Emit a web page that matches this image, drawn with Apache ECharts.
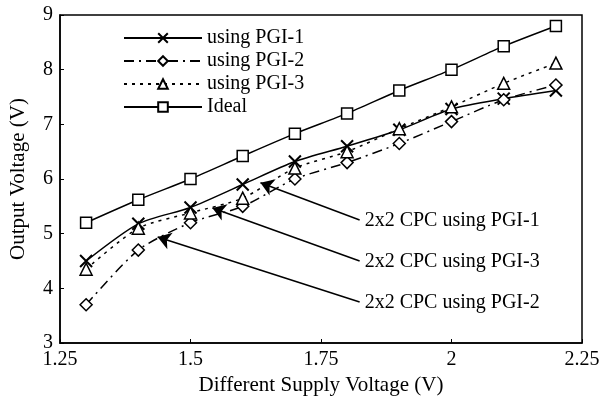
<!DOCTYPE html>
<html>
<head>
<meta charset="utf-8">
<script src="https://cdn.jsdelivr.net/npm/echarts@6/dist/echarts.min.js"></script>
<style>
  html, body { margin: 0; padding: 0; background: #fff; }
  #chart { width: 603px; height: 404px; }
</style>
</head>
<body>
<div id="chart"></div>
<script>
// supply voltages (V)
var supply = [1.3, 1.4, 1.5, 1.6, 1.7, 1.8, 1.9, 2.0, 2.1, 2.2]
// output voltages (V)
var pgi1 = [4.5, 5.18, 5.48, 5.9, 6.32, 6.6, 6.9, 7.28, 7.47, 7.62]
var pgi2 = [3.7, 4.7, 5.2, 5.5, 6.0, 6.3, 6.65, 7.05, 7.45, 7.72]
var pgi3 = [4.35, 5.1, 5.38, 5.65, 6.2, 6.5, 6.92, 7.32, 7.75, 8.12]
var ideal = [5.2, 5.62, 6.0, 6.42, 6.83, 7.2, 7.62, 8.0, 8.43, 8.8]

// annotation arrows: [label, tail x, tail y, tip x, tip y] in data units
var notes = [
  ['2x2 CPC using PGI-1', 1.824, 5.25, 1.634, 5.93],
  ['2x2 CPC using PGI-3', 1.824, 4.5, 1.542, 5.47],
  ['2x2 CPC using PGI-2', 1.824, 3.75, 1.437, 4.94]
]

var font = 'Liberation Serif'
var crossPath = 'path://M0,0L10,10M10,0L0,10'

function pairs(ys) {
  return supply.map(function(x, i) { return [x, ys[i]] })
}

function line(name, ys, symbol, dash, size) {
  return {
    name: name,
    type: 'line',
    data: pairs(ys),
    smooth: 0.25,
    symbol: symbol,
    symbolSize: size,
    showAllSymbol: true,
    lineStyle: { color: '#000', width: 1.5, type: dash },
    itemStyle: { color: '#fff', borderColor: '#000', borderWidth: 1.5 },
    emphasis: { disabled: true }
  }
}

var chart = echarts.init(document.getElementById('chart'))
var series = [
  line('using PGI-1', pgi1, crossPath, 'solid', 12),
  line('using PGI-2', pgi2, 'diamond', [10, 5, 2, 5], 12),
  line('using PGI-3', pgi3, 'triangle', [3, 5], 12),
  line('Ideal', ideal, 'rect', 'solid', 11)
]
series[0].itemStyle.borderWidth = 2
series.push({
  type: 'line',
  data: [],
  silent: true,
  markLine: {
    silent: true,
    symbol: ['none', 'arrow'],
    symbolSize: 13,
    label: { show: false },
    lineStyle: { color: '#000', width: 1.5, type: 'solid' },
    data: notes.map(function(n) {
      return [{ coord: [n[1], n[2]] }, { coord: [n[3], n[4]] }]
    })
  }
})

chart.setOption({
  animation: false,
  textStyle: { fontFamily: font, color: '#000' },
  grid: {
    left: 59, right: 21, top: 15, bottom: 61,
    show: true, borderColor: '#000', borderWidth: 1.5
  },
  legend: {
    orient: 'vertical',
    left: 118,
    top: 23,
    itemWidth: 78,
    itemHeight: 12,
    itemGap: 3,
    textStyle: { fontFamily: font, fontSize: 20, color: '#000' },
    data: ['using PGI-1', 'using PGI-2', 'using PGI-3', 'Ideal']
  },
  xAxis: {
    type: 'value',
    min: 1.25,
    max: 2.25,
    interval: 0.25,
    name: 'Different Supply Voltage (V)',
    nameLocation: 'middle',
    nameGap: 32,
    nameTextStyle: { fontFamily: font, fontSize: 21, color: '#000' },
    axisLine: { lineStyle: { color: '#000', width: 1.5 } },
    axisTick: { inside: true, length: 4, lineStyle: { color: '#000' } },
    axisLabel: { fontFamily: font, fontSize: 20, color: '#000', margin: 7 },
    splitLine: { show: false }
  },
  yAxis: {
    type: 'value',
    min: 3,
    max: 9,
    interval: 1,
    name: 'Output Voltage (V)',
    nameLocation: 'middle',
    nameGap: 31,
    nameTextStyle: { fontFamily: font, fontSize: 21, color: '#000' },
    axisLine: { show: true, lineStyle: { color: '#000', width: 1.5 } },
    axisTick: { show: true, inside: true, length: 4, lineStyle: { color: '#000' } },
    axisLabel: { fontFamily: font, fontSize: 20, color: '#000', margin: 7 },
    splitLine: { show: false }
  },
  series: series
})

// place annotation texts next to arrow tails
var texts = notes.map(function(n) {
  var p = chart.convertToPixel({ gridIndex: 0 }, [n[1], n[2]])
  return {
    type: 'text',
    left: p[0] + 5,
    top: p[1] - 9,
    style: { text: n[0], font: '20px "Liberation Serif"', fill: '#000' }
  }
})
chart.setOption({ graphic: texts })
</script>
</body>
</html>
